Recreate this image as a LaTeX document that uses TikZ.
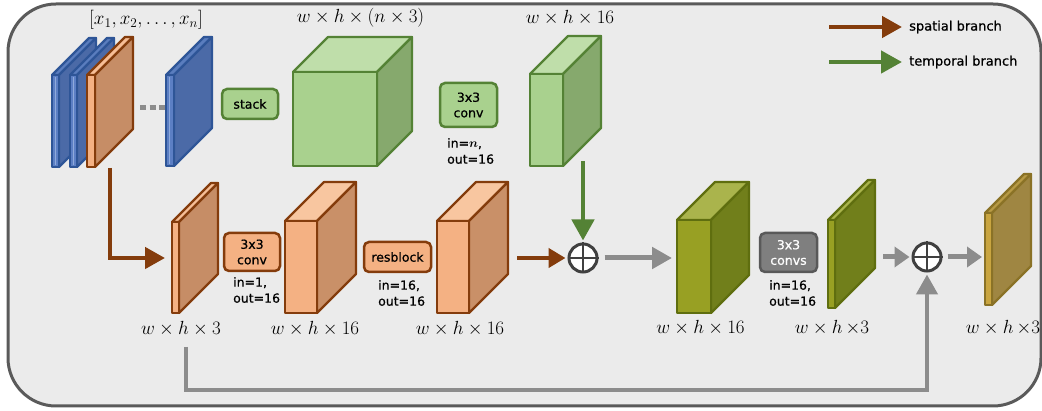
\RequirePackage{fix-cm}
\documentclass[tikz,border=0pt]{standalone}
\usepackage{bm}
\usepackage{fontspec}
\newfontfamily\lab{DejaVu Sans}[FakeBold=0.7]
\usetikzlibrary{arrows.meta}
\definecolor{bgF}{HTML}{EBEBEB}
\definecolor{frm}{HTML}{5A5A5A}
\definecolor{bluF}{HTML}{5C7FC4}
\definecolor{bluT}{HTML}{5A7DBE}
\definecolor{bluS}{HTML}{4B6AA7}
\definecolor{bluB}{HTML}{2E5597}
\definecolor{bluH}{HTML}{8FAADC}
\definecolor{oiF}{HTML}{F4B183}
\definecolor{oiT}{HTML}{F6BE96}
\definecolor{oiS}{HTML}{C68D66}
\definecolor{oiB}{HTML}{843C0C}
\definecolor{orF}{HTML}{F4B183}
\definecolor{orT}{HTML}{F8C6A0}
\definecolor{orS}{HTML}{C99068}
\definecolor{orB}{HTML}{843C0C}
\definecolor{grF}{HTML}{A9D18E}
\definecolor{grT}{HTML}{BFDEAA}
\definecolor{grS}{HTML}{86A96D}
\definecolor{grB}{HTML}{548235}
\definecolor{olF}{HTML}{98A023}
\definecolor{olT}{HTML}{AAB44C}
\definecolor{olS}{HTML}{717F1B}
\definecolor{olB}{HTML}{5F6E0F}
\definecolor{fiF}{HTML}{C9A540}
\definecolor{fiT}{HTML}{B79A45}
\definecolor{fiS}{HTML}{9F8642}
\definecolor{fiB}{HTML}{8A7226}
\definecolor{gyF}{HTML}{7F7F7F}
\definecolor{gyB}{HTML}{595959}
\definecolor{gyA}{HTML}{8C8C8C}
\definecolor{brn}{HTML}{843C0C}
\definecolor{grn}{HTML}{548235}
\definecolor{dk}{HTML}{404040}
% #1 name, #2 x, #3 y, #4 front width, #5 height, #6 depth, #7 colour prefix
\newcommand\cuboid[7]{%
  \filldraw[cube, fill=#7T, draw=#7B] (#2,#3) -- ++(#4,0) -- ++(#6,-#6) -- ++(-#4,0) -- cycle;
  \filldraw[cube, fill=#7S, draw=#7B] (#2+#4,#3) -- ++(#6,-#6) -- ++(0,#5) -- ++(-#6,#6) -- cycle;
  \filldraw[cube, fill=#7F, draw=#7B] (#2,#3) rectangle ++(#4,#5);
  \coordinate (#1) at (#2,#3);
}
\begin{document}
\begin{tikzpicture}[x=1pt,y=-1pt,
  cube/.style={line width=2.2pt, line join=round},
  lbox/.style={rounded corners=5pt, line width=2.5pt, align=center, inner sep=0pt,
    font=\lab\fontsize{12.5}{15.5}\selectfont},
  gbox/.style={lbox, fill=grF, draw=grB},
  obox/.style={lbox, fill=orF, draw=orB},
  kbox/.style={lbox, fill=gyF, draw=gyB, text=white},
  param/.style={anchor=west, align=left, inner sep=0pt, font=\lab\fontsize{12.5}{16}\selectfont},
  dimlab/.style={inner sep=0pt, font=\fontsize{19}{22}\selectfont},
  legtext/.style={anchor=west, inner sep=0pt, font=\lab\fontsize{13}{15}\selectfont},
  brarrow/.style={draw=brn, line width=4.5pt, -{Triangle[length=20pt,width=21pt]}},
  brsmall/.style={draw=brn, line width=4.5pt, -{Triangle[length=17pt,width=19pt]}},
  gnarrow/.style={draw=grn, line width=4.5pt, -{Triangle[length=21pt,width=22pt]}},
  gyarrow/.style={draw=gyA, line width=5pt, -{Triangle[length=20pt,width=21pt]}},
  gysmall/.style={draw=gyA, line width=5pt, -{Triangle[length=15pt,width=20pt]}},
  oplus/.style={circle, draw=dk, line width=3pt, fill=white, minimum size=28pt, inner sep=0pt},
  hilite/.style={line width=1.2pt},
]
\useasboundingbox (0,0) rectangle (1042,411);
\filldraw[fill=bgF, draw=frm, line width=3pt, rounded corners=48pt] (8,4) rectangle (1041,406);

% input frames
\cuboid{b1}{52}{75}{7}{92}{37}{blu}
\draw[hilite, bluH] (55.5,77) -- (55.5,165);
\cuboid{b2}{70}{75}{7}{92}{37}{blu}
\draw[hilite, bluH] (73.5,77) -- (73.5,165);
\cuboid{oin}{87}{75}{8}{92}{38}{oi}
\draw[gyA, line width=5pt, dash pattern=on 6pt off 3.5pt] (140,108) -- (166,108);
\cuboid{bn}{166}{75}{8}{91}{38}{blu}
\draw[hilite, bluH] (169.5,77) -- (169.5,164);
\node[dimlab] (xlab) at (146,20) {$[x_1, x_2, \ldots, x_n]$};

% temporal branch top
\node[gbox, minimum width=56pt, minimum height=30pt] (stack) at (250,104) {stack};
\cuboid{gcube}{293}{72}{84}{94}{35}{gr}
\node[dimlab] at (360.5,18) {$w\times h\times(n\times 3)$};
\node[gbox, minimum width=57pt, minimum height=44pt] (tconv) at (468.5,105) {3x3\\conv};
\node[param] at (447,151) {in=$\bm{n}$,\\out=16};
\cuboid{gslab}{530}{74}{33}{92}{38}{gr}
\node[dimlab] at (570,18) {$w\times h\times 16$};

% spatial branch bottom
\cuboid{o1}{172}{222}{7}{91}{39}{oi}
\node[dimlab] at (181,329) {$w\times h\times 3$};
\node[obox, minimum width=56pt, minimum height=38pt] (sconv) at (252,252) {3x3\\conv};
\node[param] at (233,290) {in=1,\\out=16};
\cuboid{o2}{285}{221}{32}{92}{39}{or}
\node[dimlab] at (315,329) {$w\times h\times 16$};
\node[obox, minimum width=67pt, minimum height=30pt] (res) at (397.5,257) {resblock};
\node[param] at (378,293) {in=16,\\out=16};
\cuboid{o3}{437}{221}{32}{92}{39}{or}
\node[dimlab] at (460,329) {$w\times h\times 16$};

% fusion
\node[oplus] (p1) at (583,258) {};
\draw[dk, line width=2.5pt] (p1.north) -- (p1.south) (p1.west) -- (p1.east);
\cuboid{ol1}{677}{220}{34}{93}{38}{ol}
\node[dimlab] at (700.5,328) {$w\times h\times 16$};
\node[kbox, minimum width=57pt, minimum height=39pt] (kconv) at (788.5,252.5) {3x3\\convs};
\node[param] at (769,293) {in=16,\\out=16};
\cuboid{ol2}{828}{220}{7}{88}{40}{ol}
\node[dimlab] at (832,328) {$w\times h\,{\times}3$};
\node[oplus] (p2) at (927,257) {};
\draw[dk, line width=2.5pt] (p2.north) -- (p2.south) (p2.west) -- (p2.east);
\cuboid{fin}{985}{213}{7}{92}{39}{fi}
\node[dimlab] at (1003,328) {$w\times h\,{\times}3$};

% connector end points
\coordinate (sp0) at (110,168);
\coordinate (o1in) at (165,258);
\coordinate (o3out) at (517,258);
\coordinate (gsout) at (583,161);
\coordinate (ol1in) at (672,258);
\coordinate (ol2out) at (883,257);
\coordinate (finin) at (982,257);
\coordinate (sk0) at (186,347);
\coordinate (sk1) at (927,390);

% connectors
\draw[brarrow] (sp0) |- (o1in);
\draw[brsmall, shorten >=2pt] (o3out) -- (p1.west);
\draw[gnarrow, shorten >=2pt] (gsout) -- (p1.north);
\draw[gyarrow, shorten <=6pt] (p1.east) -- (ol1in);
\draw[gysmall, shorten >=2pt] (ol2out) -- (p2.west);
\draw[gysmall, shorten <=5pt] (p2.east) -- (finin);
\draw[gyarrow, line width=4.5pt, shorten >=2pt] (sk0) |- (sk1) -- (p2.south);

% legend
\coordinate (l1a) at (829,27); \coordinate (l1b) at (902,27);
\coordinate (l2a) at (829,62); \coordinate (l2b) at (902,62);
\draw[brarrow] (l1a) -- (l1b);
\draw[gnarrow] (l2a) -- (l2b);
\node[legtext] (lsp) at (909,27) {spatial branch};
\node[legtext] (ltp) at (909,62) {temporal branch};
\end{tikzpicture}
\end{document}
